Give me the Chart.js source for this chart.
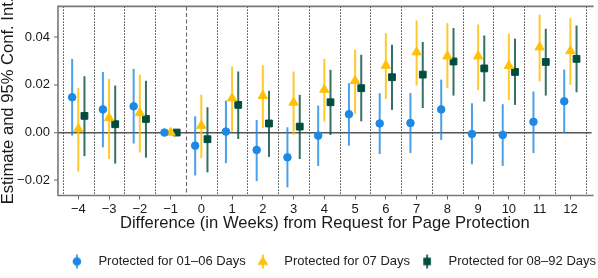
<!DOCTYPE html>
<html>
<head>
<meta charset="utf-8">
<script src="https://cdn.jsdelivr.net/npm/chart.js@4.4.1/dist/chart.umd.min.js"></script>
<style>
html,body{margin:0;padding:0;background:#fff;overflow:hidden;}
#wrap{width:598px;height:278px;}
</style>
</head>
<body>
<div id="wrap"><canvas id="chart" width="598" height="278"></canvas></div>
<script>
// weeks relative to the request for page protection
const weeks = [-4,-3,-2,-1,0,1,2,3,4,5,6,7,8,9,10,11,12];

// protected for 01-06 days
const shortEst = [0.0148,0.0097,0.0110,0,-0.0055,0.0004,-0.0073,-0.0104,-0.0013,0.0077,0.0038,0.0040,0.0097,-0.0006,-0.0010,0.0045,0.0131];
const shortLo = [-0.0013,-0.0062,-0.0046,0,-0.0180,-0.0128,-0.0204,-0.0230,-0.0140,-0.0055,-0.0090,-0.0086,-0.0031,-0.0133,-0.0140,-0.0086,-0.0002];
const shortHi = [0.0309,0.0254,0.0267,0,0.0068,0.0134,0.0053,0.0022,0.0113,0.0207,0.0165,0.0166,0.0222,0.0123,0.0119,0.0172,0.0264];

// protected for 07 days
const weekEst = [0.0015,0.0061,0.0082,0,0.0029,0.0144,0.0154,0.0126,0.0180,0.0217,0.0281,0.0337,0.0320,0.0320,0.0280,0.0358,0.0342];
const weekLo = [-0.0164,-0.0111,-0.0084,0,-0.0108,0.0004,0.0019,-0.0010,0.0046,0.0077,0.0141,0.0197,0.0186,0.0178,0.0136,0.0215,0.0200];
const weekHi = [0.0187,0.0225,0.0243,0,0.0159,0.0277,0.0282,0.0256,0.0309,0.0348,0.0417,0.0470,0.0459,0.0453,0.0414,0.0494,0.0480];

// protected for 08-92 days
const longEst = [0.0070,0.0035,0.0057,0,-0.0028,0.0116,0.0038,0.0025,0.0127,0.0186,0.0232,0.0243,0.0298,0.0269,0.0254,0.0296,0.0309];
const longLo = [-0.0099,-0.0130,-0.0105,0,-0.0167,-0.0027,-0.0102,-0.0111,-0.0010,0.0047,0.0095,0.0103,0.0155,0.0130,0.0116,0.0155,0.0169];
const longHi = [0.0236,0.0197,0.0217,0,0.0106,0.0256,0.0175,0.0158,0.0263,0.0326,0.0368,0.0380,0.0438,0.0407,0.0394,0.0435,0.0449];

const yTicks = [-0.02, 0, 0.02, 0.04];

const FONT = "'Liberation Sans', Arial, sans-serif";
const MINUS = "\u2212";

const series = [
  {label: "Protected for 01\u201306 Days", est: shortEst, lo: shortLo, hi: shortHi,
   color: "#1E88E5", bar: "rgba(30,136,229,0.8)", shape: "circle", r: 3.8, shift: -0.2},
  {label: "Protected for 07 Days", est: weekEst, lo: weekLo, hi: weekHi,
   color: "#FFC107", bar: "rgba(255,193,7,0.85)", shape: "triangle", r: 5.4, shift: 0},
  {label: "Protected for 08\u201392 Days", est: longEst, lo: longLo, hi: longHi,
   color: "#004D40", bar: "rgba(0,77,64,0.8)", shape: "rect", r: 4.8, shift: 0.2}
];

// little legend icons: marker with its error bar
function makeIcon(s){
  let c = document.createElement("canvas");
  c.width = 12; c.height = 16;
  let g = c.getContext("2d");
  g.strokeStyle = s.bar; g.lineWidth = 2;
  g.beginPath(); g.moveTo(6, 1); g.lineTo(6, 15); g.stroke();
  g.fillStyle = s.color;
  g.beginPath();
  if(s.shape === "circle"){ g.arc(6, 8, 4.3, 0, Math.PI*2); }
  else if(s.shape === "triangle"){ g.moveTo(6, 2.5); g.lineTo(11.5, 11.5); g.lineTo(0.5, 11.5); g.closePath(); }
  else { g.rect(2.2, 4.2, 7.6, 7.6); }
  g.fill();
  return c;
}
const icons = series.map(makeIcon);

const datasets = series.map(s => ({
  label: s.label,
  data: weeks.map((w, i) => ({x: w + s.shift, y: s.est[i], lo: s.lo[i], hi: s.hi[i]})),
  pointStyle: s.shape,
  pointRadius: s.r,
  pointHoverRadius: s.r,
  backgroundColor: s.color,
  borderColor: s.color,
  borderWidth: 1,
  errColor: s.bar
}));

// separators, frame and confidence intervals
const errorBars = {
  id: "errorBars",
  beforeDatasetsDraw(chart){
    const {ctx, chartArea: a, scales: {x, y}} = chart;
    ctx.save();
    // vertical separators between weeks
    let seps = [weeks[0] - 0.5].concat(weeks.map(w => w + 0.5));
    seps.forEach(v => {
      let px = Math.round(x.getPixelForValue(v)) + 0.5;
      if(px > a.right) return;
      ctx.beginPath();
      if(v === -0.5){ ctx.setLineDash([4, 2.5]); ctx.strokeStyle = "#666"; ctx.lineWidth = 1.1; }
      else { ctx.setLineDash([1.5, 1.5]); ctx.strokeStyle = "#444"; ctx.lineWidth = 1; }
      ctx.moveTo(px, a.top); ctx.lineTo(px, a.bottom); ctx.stroke();
    });
    ctx.setLineDash([]);
    // frame (right side is cut off by the image)
    ctx.strokeStyle = "#777"; ctx.lineWidth = 1.6;
    ctx.beginPath();
    ctx.moveTo(a.right + 2, a.top); ctx.lineTo(a.left, a.top);
    ctx.lineTo(a.left, a.bottom); ctx.lineTo(a.right + 2, a.bottom);
    ctx.stroke();
    // error bars
    chart.data.datasets.forEach(ds => {
      ctx.strokeStyle = ds.errColor; ctx.lineWidth = 2;
      ds.data.forEach(d => {
        if(d.lo === d.hi) return;
        let px = x.getPixelForValue(d.x);
        ctx.beginPath();
        ctx.moveTo(px, y.getPixelForValue(d.lo));
        ctx.lineTo(px, y.getPixelForValue(d.hi));
        ctx.stroke();
      });
    });
    ctx.restore();
  }
};

const ctx = document.getElementById("chart").getContext("2d");
const chart = new Chart(ctx, {
  type: "scatter",
  data: {datasets: datasets},
  plugins: [errorBars],
  options: {
    responsive: false,
    animation: false,
    layout: {padding: {top: 4, right: 0, left: 0, bottom: 0}},
    plugins: {
      tooltip: {enabled: false},
      legend: {
        position: "bottom",
        align: "end",
        labels: {
          usePointStyle: true,
          pointStyleWidth: 30,
          padding: 2,
          color: "#222",
          font: {family: FONT, size: 13, lineHeight: 1},
          generateLabels: ch => series.map((s, i) => ({
            text: s.label, pointStyle: icons[i], fillStyle: s.color,
            strokeStyle: s.color, lineWidth: 0, hidden: false, datasetIndex: i, fontColor: "#222"
          }))
        }
      }
    },
    scales: {
      x: {
        type: "linear",
        min: -4.66, max: 12.69,
        afterBuildTicks: s => { s.ticks = weeks.map(v => ({value: v})); },
        afterFit: s => { s.height = 57.5; s.paddingLeft = 0; s.paddingRight = 0; },
        border: {display: false},
        grid: {drawOnChartArea: false, drawTicks: true, tickLength: 4, tickColor: "#666", tickWidth: 1},
        ticks: {
          padding: 2, color: "#1a1a1a", font: {family: FONT, size: 13},
          maxRotation: 0, autoSkip: false,
          callback: v => String(v).replace("-", MINUS)
        },
        title: {display: true, text: "Difference (in Weeks) from Request for Page Protection",
          color: "#1a1a1a", font: {family: FONT, size: 16.6}, padding: {top: 2, bottom: 20}}
      },
      y: {
        min: -0.0264, max: 0.0529,
        afterBuildTicks: s => { s.ticks = yTicks.map(v => ({value: v})); },
        afterFit: s => { s.width = 58; s.paddingTop = 0; s.paddingBottom = 0; },
        border: {display: false},
        grid: {
          drawOnChartArea: true, tickLength: 4, tickColor: "#666", tickWidth: 1,
          color: c => (c.tick && c.tick.value === 0) ? "#555" : "rgba(0,0,0,0)",
          lineWidth: c => (c.tick && c.tick.value === 0) ? 1.5 : 0
        },
        ticks: {
          padding: 4, color: "#1a1a1a", font: {family: FONT, size: 13},
          callback: v => v.toFixed(2).replace("-", MINUS)
        },
        title: {display: true, text: "Estimate and 95% Conf. Int.",
          color: "#1a1a1a", font: {family: FONT, size: 16.6, lineHeight: 1}, padding: 0}
      }
    }
  }
});
</script>
</body>
</html>
